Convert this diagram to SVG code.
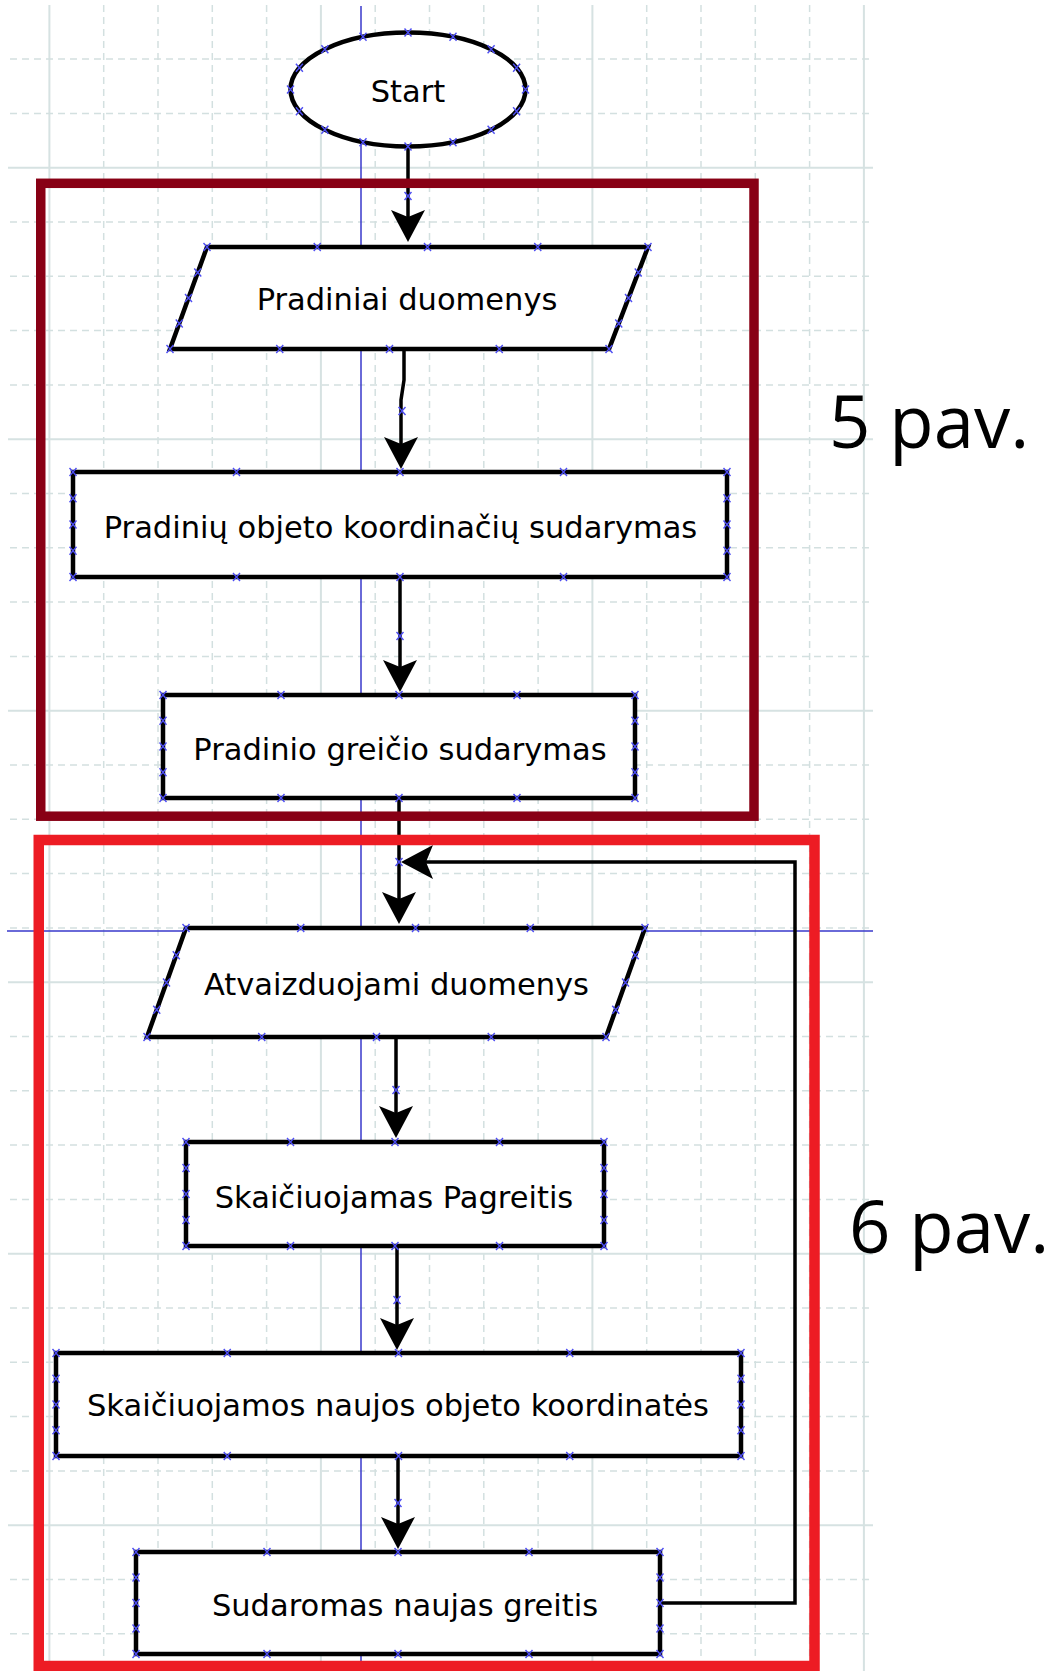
<svg xmlns="http://www.w3.org/2000/svg" xmlns:xlink="http://www.w3.org/1999/xlink" width="1053" height="1671" viewBox="0 0 1053 1671">
<style>
.gd{fill:none;stroke:#d3e0e0;stroke-width:1.5;stroke-dasharray:7 5}
.gs{fill:none;stroke:#d6e2e2;stroke-width:2}
.guide{fill:none;stroke:#3a3acc;stroke-width:1.5}
.shape{fill:#fff;stroke:#000;stroke-width:4.5}
.lbl{font-family:"DejaVu Sans",Verdana,sans-serif;font-size:30.5px;fill:#000;text-anchor:middle}
.conn{fill:none;stroke:#000;stroke-width:3.5}
.fig{font-family:"Open Sans","Liberation Sans",sans-serif;font-size:72.5px;fill:#000}
</style>
<defs>
<marker id="ah" markerUnits="userSpaceOnUse" viewBox="0 0 32 34" refX="7" refY="17" markerWidth="32" markerHeight="34" orient="auto">
<path d="M32 17L0 0L7 17L0 34Z" fill="#000"/>
</marker>
<path id="x" d="M-3.5 -4L3.5 4M-3.5 4L3.5 -4" fill="none" stroke="#4d4df2" stroke-width="1.4"/>
</defs>
<rect width="1053" height="1671" fill="#fff"/>
<g id="grid">
<path class="gd" d="M103.7 5V1671M158 5V1671M212.3 5V1671M266.6 5V1671M375.2 5V1671M429.5 5V1671M483.8 5V1671M538.1 5V1671M646.7 5V1671M701 5V1671M755.3 5V1671M809.6 5V1671"/>
<path class="gs" d="M49.4 5V1671M320.9 5V1671M592.4 5V1671M863.9 5V1671"/>
<path class="gd" d="M10 59.1H873M10 113.4H873M10 222H873M10 276.3H873M10 330.6H873M10 384.9H873M10 493.5H873M10 547.8H873M10 602.1H873M10 656.4H873M10 765H873M10 819.3H873M10 873.6H873M10 927.9H873M10 1036.5H873M10 1090.8H873M10 1145.1H873M10 1199.4H873M10 1308H873M10 1362.3H873M10 1416.6H873M10 1470.9H873M10 1579.5H873M10 1633.8H873"/>
<path class="gs" d="M8 167.7H873M8 439.2H873M8 710.7H873M8 982.2H873M8 1253.7H873M8 1525.2H873"/>
<path class="guide" d="M361 6V1671M7 931H873"/>
</g>
<g id="connectors">
<path class="conn" d="M408 147V217" marker-end="url(#ah)"/>
<path class="conn" d="M404 349V380L401 400V444" marker-end="url(#ah)"/>
<path class="conn" d="M400 577V667" marker-end="url(#ah)"/>
<path class="conn" d="M399 798V899" marker-end="url(#ah)"/>
<path class="conn" d="M659 1603H795V862H426" marker-end="url(#ah)"/>
<path class="conn" d="M396 1037V1113" marker-end="url(#ah)"/>
<path class="conn" d="M397 1246V1325" marker-end="url(#ah)"/>
<path class="conn" d="M398 1456V1524" marker-end="url(#ah)"/>
<use href="#x" x="408" y="196"/><use href="#x" x="402" y="411"/><use href="#x" x="400" y="636"/><use href="#x" x="399" y="862"/><use href="#x" x="396" y="1090"/><use href="#x" x="397" y="1300"/><use href="#x" x="398" y="1503"/>
</g>
<g id="start">
<ellipse class="shape" cx="408" cy="89.5" rx="117.5" ry="57" stroke-width="3.8"/>
<text class="lbl" x="408" y="102">Start</text>
<use href="#x" x="525.5" y="89.5"/><use href="#x" x="516.6" y="67.7"/><use href="#x" x="491.1" y="49.2"/><use href="#x" x="453" y="36.8"/><use href="#x" x="408" y="32.5"/><use href="#x" x="363" y="36.8"/><use href="#x" x="324.9" y="49.2"/><use href="#x" x="299.4" y="67.7"/><use href="#x" x="290.5" y="89.5"/><use href="#x" x="299.4" y="111.3"/><use href="#x" x="324.9" y="129.8"/><use href="#x" x="363" y="142.2"/><use href="#x" x="408" y="146.5"/><use href="#x" x="453" y="142.2"/><use href="#x" x="491.1" y="129.8"/><use href="#x" x="516.6" y="111.3"/>
</g>
<g id="pradiniai-duomenys">
<polygon class="shape" points="207,247 648,247 609,349 170,349"/>
<text class="lbl" x="407" y="310">Pradiniai duomenys</text>
<use href="#x" x="207" y="247"/><use href="#x" x="317.25" y="247"/><use href="#x" x="427.5" y="247"/><use href="#x" x="537.75" y="247"/><use href="#x" x="648" y="247"/>
<use href="#x" x="170" y="349"/><use href="#x" x="279.75" y="349"/><use href="#x" x="389.5" y="349"/><use href="#x" x="499.25" y="349"/><use href="#x" x="609" y="349"/>
<use href="#x" x="197.75" y="272.5"/><use href="#x" x="188.5" y="298"/><use href="#x" x="179.25" y="323.5"/><use href="#x" x="638.25" y="272.5"/><use href="#x" x="628.5" y="298"/><use href="#x" x="618.75" y="323.5"/>
</g>
<g id="pradiniu-koordinaciu">
<rect class="shape" x="73" y="472" width="654" height="105"/>
<text class="lbl" x="400.5" y="538">Pradinių objeto koordinačių sudarymas</text>
<use href="#x" x="73" y="472"/><use href="#x" x="236.5" y="472"/><use href="#x" x="400" y="472"/><use href="#x" x="563.5" y="472"/><use href="#x" x="727" y="472"/>
<use href="#x" x="73" y="577"/><use href="#x" x="236.5" y="577"/><use href="#x" x="400" y="577"/><use href="#x" x="563.5" y="577"/><use href="#x" x="727" y="577"/>
<use href="#x" x="73" y="498.25"/><use href="#x" x="73" y="524.5"/><use href="#x" x="73" y="550.75"/><use href="#x" x="727" y="498.25"/><use href="#x" x="727" y="524.5"/><use href="#x" x="727" y="550.75"/>
</g>
<g id="pradinio-greicio">
<rect class="shape" x="163" y="695" width="472" height="103"/>
<text class="lbl" x="400" y="760">Pradinio greičio sudarymas</text>
<use href="#x" x="163" y="695"/><use href="#x" x="281" y="695"/><use href="#x" x="399" y="695"/><use href="#x" x="517" y="695"/><use href="#x" x="635" y="695"/>
<use href="#x" x="163" y="798"/><use href="#x" x="281" y="798"/><use href="#x" x="399" y="798"/><use href="#x" x="517" y="798"/><use href="#x" x="635" y="798"/>
<use href="#x" x="163" y="720.75"/><use href="#x" x="163" y="746.5"/><use href="#x" x="163" y="772.25"/><use href="#x" x="635" y="720.75"/><use href="#x" x="635" y="746.5"/><use href="#x" x="635" y="772.25"/>
</g>
<g id="atvaizduojami-duomenys">
<polygon class="shape" points="186,928 645,928 606,1037 147,1037"/>
<text class="lbl" x="396.5" y="995">Atvaizduojami duomenys</text>
<use href="#x" x="186" y="928"/><use href="#x" x="300.75" y="928"/><use href="#x" x="415.5" y="928"/><use href="#x" x="530.25" y="928"/><use href="#x" x="645" y="928"/>
<use href="#x" x="147" y="1037"/><use href="#x" x="261.75" y="1037"/><use href="#x" x="376.5" y="1037"/><use href="#x" x="491.25" y="1037"/><use href="#x" x="606" y="1037"/>
<use href="#x" x="176.25" y="955.25"/><use href="#x" x="166.5" y="982.5"/><use href="#x" x="156.75" y="1009.75"/><use href="#x" x="635.25" y="955.25"/><use href="#x" x="625.5" y="982.5"/><use href="#x" x="615.75" y="1009.75"/>
</g>
<g id="skaiciuojamas-pagreitis">
<rect class="shape" x="186" y="1142" width="418" height="104"/>
<text class="lbl" x="394" y="1208">Skaičiuojamas Pagreitis</text>
<use href="#x" x="186" y="1142"/><use href="#x" x="290.5" y="1142"/><use href="#x" x="395" y="1142"/><use href="#x" x="499.5" y="1142"/><use href="#x" x="604" y="1142"/>
<use href="#x" x="186" y="1246"/><use href="#x" x="290.5" y="1246"/><use href="#x" x="395" y="1246"/><use href="#x" x="499.5" y="1246"/><use href="#x" x="604" y="1246"/>
<use href="#x" x="186" y="1168"/><use href="#x" x="186" y="1194"/><use href="#x" x="186" y="1220"/><use href="#x" x="604" y="1168"/><use href="#x" x="604" y="1194"/><use href="#x" x="604" y="1220"/>
</g>
<g id="skaiciuojamos-koordinates">
<rect class="shape" x="56" y="1353" width="685" height="103"/>
<text class="lbl" x="398" y="1416">Skaičiuojamos naujos objeto koordinatės</text>
<use href="#x" x="56" y="1353"/><use href="#x" x="227.25" y="1353"/><use href="#x" x="398.5" y="1353"/><use href="#x" x="569.75" y="1353"/><use href="#x" x="741" y="1353"/>
<use href="#x" x="56" y="1456"/><use href="#x" x="227.25" y="1456"/><use href="#x" x="398.5" y="1456"/><use href="#x" x="569.75" y="1456"/><use href="#x" x="741" y="1456"/>
<use href="#x" x="56" y="1378.75"/><use href="#x" x="56" y="1404.5"/><use href="#x" x="56" y="1430.25"/><use href="#x" x="741" y="1378.75"/><use href="#x" x="741" y="1404.5"/><use href="#x" x="741" y="1430.25"/>
</g>
<g id="sudaromas-greitis">
<rect class="shape" x="136" y="1552" width="524" height="102"/>
<text class="lbl" x="405" y="1616">Sudaromas naujas greitis</text>
<use href="#x" x="136" y="1552"/><use href="#x" x="267" y="1552"/><use href="#x" x="398" y="1552"/><use href="#x" x="529" y="1552"/><use href="#x" x="660" y="1552"/>
<use href="#x" x="136" y="1654"/><use href="#x" x="267" y="1654"/><use href="#x" x="398" y="1654"/><use href="#x" x="529" y="1654"/><use href="#x" x="660" y="1654"/>
<use href="#x" x="136" y="1577.5"/><use href="#x" x="136" y="1603"/><use href="#x" x="136" y="1628.5"/><use href="#x" x="660" y="1577.5"/><use href="#x" x="660" y="1603"/><use href="#x" x="660" y="1628.5"/>
</g>
<g id="frame-5">
<rect x="40.75" y="183.3" width="713.25" height="632.9" fill="none" stroke="#880015" stroke-width="9.5"/>
<text class="fig" x="829" y="448">5 pav.</text>
</g>
<g id="frame-6">
<rect x="38.75" y="840" width="775.75" height="826" fill="none" stroke="#ed1c24" stroke-width="10.5"/>
<text class="fig" x="849" y="1253">6 pav.</text>
</g>
</svg>
